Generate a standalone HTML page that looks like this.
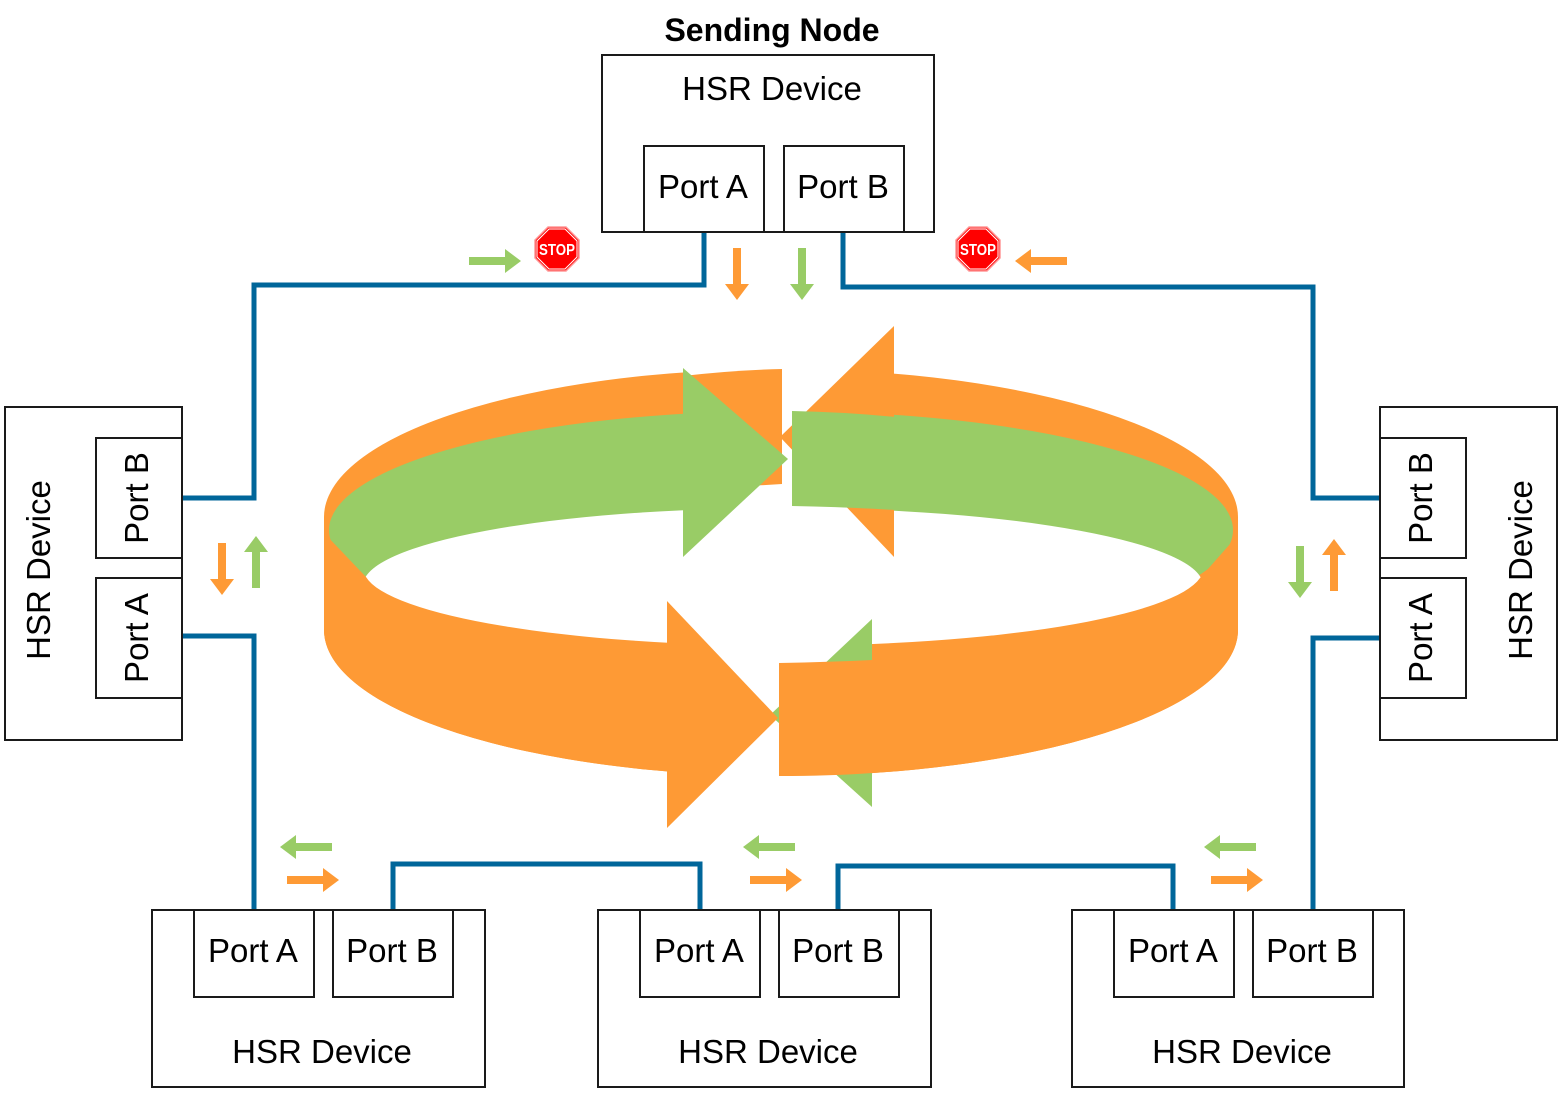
<!DOCTYPE html>
<html><head><meta charset="utf-8"><style>
html,body{margin:0;padding:0;background:#fff;}
svg{display:block;}
text{font-family:"Liberation Sans",Arial,sans-serif;fill:#000;}
</style></head><body>
<svg width="1562" height="1093" viewBox="0 0 1562 1093" xmlns="http://www.w3.org/2000/svg">
<defs>
<path id="ar" d="M-26,-4 H10 V-12 L26,0 L10,12 V4 H-26Z"/>
</defs>
<g>
<path fill="#FE9A35" d="M324,517 A457 148 0 0 1 1238,517 L1238,630 A457 146 0 0 1 324,630 Z"/>
<ellipse cx="781" cy="530" rx="452" ry="119" fill="#99CC66"/>
<ellipse cx="783" cy="585.5" rx="420" ry="77.5" fill="#fff"/>
<path fill="#FE9A35" d="M326,535 L366,577 A420 77.5 0 0 0 1200,578 L1238,535 L1238,630 A457 146 0 0 1 324,630 Z"/>
<rect x="683" y="320" width="210" height="190" fill="#fff"/>
<path fill="#FE9A35" d="M683,376 Q735,370 782,369 L782,484 L683,490 Z"/>
<polygon fill="#FE9A35" points="894,326 780,437 894,557"/>
<path fill="#99CC66" d="M792,411 Q845,412 895,417 L895,510 Q845,507 792,506 Z"/>
<polygon fill="#99CC66" points="683,368 788,459 683,557"/>
<rect x="667" y="640" width="205" height="195" fill="#fff"/>
<polygon fill="#99CC66" points="872,619 770,715 872,807"/>
<path fill="#FE9A35" d="M779,663 Q830,662 872,660 L872,773 Q830,776 779,776 Z"/>
<polygon fill="#FE9A35" points="667,601 778,718 667,828"/>
</g>
<g fill="none" stroke="#00669A" stroke-width="5">
<path d="M704,232 V285 H254 V498 H182"/>
<path d="M843,232 V287 H1313 V498 H1380"/>
<path d="M182,636 H254 V910"/>
<path d="M1380,638 H1313 V910"/>
<path d="M393,910 V864 H700 V910"/>
<path d="M838,910 V866 H1173 V910"/>
</g>
<g fill="none" stroke="#1a1a1a" stroke-width="2">
<rect x="602" y="55" width="332" height="177"/>
<rect x="644" y="146" width="120" height="86"/>
<rect x="784" y="146" width="120" height="86"/>
<rect x="5" y="407" width="177" height="333"/>
<rect x="96" y="438" width="86" height="120"/>
<rect x="96" y="578" width="86" height="120"/>
<rect x="1380" y="407" width="177" height="333"/>
<rect x="1380" y="438" width="86" height="120"/>
<rect x="1380" y="578" width="86" height="120"/>
<rect x="152" y="910" width="333" height="177"/>
<rect x="194" y="910" width="120" height="87"/>
<rect x="333" y="910" width="120" height="87"/>
<rect x="598" y="910" width="333" height="177"/>
<rect x="640" y="910" width="120" height="87"/>
<rect x="779" y="910" width="120" height="87"/>
<rect x="1072" y="910" width="332" height="177"/>
<rect x="1114" y="910" width="120" height="87"/>
<rect x="1253" y="910" width="120" height="87"/>
</g>
<g font-size="33" text-anchor="middle">
<text x="772" y="41" font-weight="bold" font-size="32">Sending Node</text>
<text x="772" y="100">HSR Device</text>
<text x="703" y="198">Port A</text>
<text x="843" y="198">Port B</text>
<text x="322" y="1063">HSR Device</text>
<text x="253" y="962">Port A</text>
<text x="392" y="962">Port B</text>
<text x="768" y="1063">HSR Device</text>
<text x="699" y="962">Port A</text>
<text x="838" y="962">Port B</text>
<text x="1242" y="1063">HSR Device</text>
<text x="1173" y="962">Port A</text>
<text x="1312" y="962">Port B</text>
<text transform="translate(50,570) rotate(-90)">HSR Device</text>
<text transform="translate(148,498) rotate(-90)">Port B</text>
<text transform="translate(148,638) rotate(-90)">Port A</text>
<text transform="translate(1532,570) rotate(-90)">HSR Device</text>
<text transform="translate(1432,498) rotate(-90)">Port B</text>
<text transform="translate(1432,638) rotate(-90)">Port A</text>
</g>
<g>
<use href="#ar" fill="#99CC66" transform="translate(495,261)"/>
<use href="#ar" fill="#FE9A35" transform="translate(1041,261) rotate(180)"/>
<use href="#ar" fill="#FE9A35" transform="translate(737,274) rotate(90)"/>
<use href="#ar" fill="#99CC66" transform="translate(802,274) rotate(90)"/>
<use href="#ar" fill="#FE9A35" transform="translate(222,569) rotate(90)"/>
<use href="#ar" fill="#99CC66" transform="translate(256,562) rotate(-90)"/>
<use href="#ar" fill="#99CC66" transform="translate(1300,572) rotate(90)"/>
<use href="#ar" fill="#FE9A35" transform="translate(1334,565) rotate(-90)"/>
<use href="#ar" fill="#99CC66" transform="translate(306,847) rotate(180)"/>
<use href="#ar" fill="#FE9A35" transform="translate(313,880)"/>
<use href="#ar" fill="#99CC66" transform="translate(769,847) rotate(180)"/>
<use href="#ar" fill="#FE9A35" transform="translate(776,880)"/>
<use href="#ar" fill="#99CC66" transform="translate(1230,847) rotate(180)"/>
<use href="#ar" fill="#FE9A35" transform="translate(1237,880)"/>
</g>
<g>
<g transform="translate(557,249)">
<polygon points="-9,-22 9,-22 22,-9 22,9 9,22 -9,22 -22,9 -22,-9" fill="#f00" stroke="#f99" stroke-width="1.5"/>
<polygon points="-8,-20 8,-20 20,-8 20,8 8,20 -8,20 -20,8 -20,-8" fill="none" stroke="#fff" stroke-width="1"/>
<text x="-18" y="6" font-size="16" font-weight="bold" textLength="36" lengthAdjust="spacingAndGlyphs" style="fill:#fff">STOP</text>
</g>
<g transform="translate(978,249)">
<polygon points="-9,-22 9,-22 22,-9 22,9 9,22 -9,22 -22,9 -22,-9" fill="#f00" stroke="#f99" stroke-width="1.5"/>
<polygon points="-8,-20 8,-20 20,-8 20,8 8,20 -8,20 -20,8 -20,-8" fill="none" stroke="#fff" stroke-width="1"/>
<text x="-18" y="6" font-size="16" font-weight="bold" textLength="36" lengthAdjust="spacingAndGlyphs" style="fill:#fff">STOP</text>
</g>
</g>
</svg>
</body></html>
